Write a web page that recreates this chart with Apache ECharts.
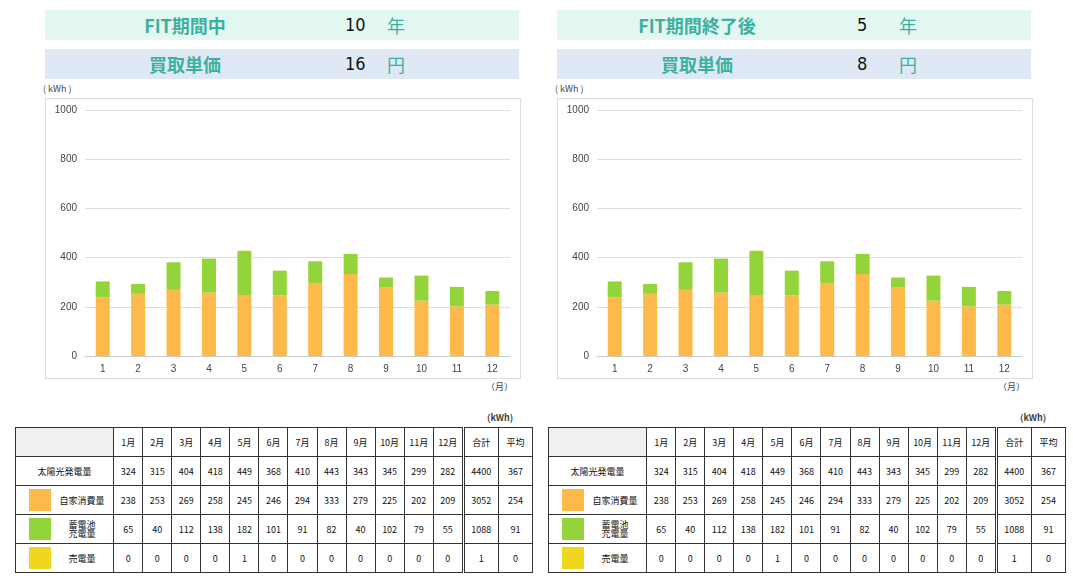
<!DOCTYPE html>
<html>
<head>
<meta charset="utf-8">
<script src="https://cdn.jsdelivr.net/npm/echarts@6/dist/echarts.min.js"></script>
<style>
body{margin:0;font-family:"Noto Sans CJK JP",sans-serif;background:#fff;width:1073px;height:588px;position:relative;overflow:hidden}
.band{position:absolute;height:30px;line-height:30px;font-size:18px;font-weight:bold;color:#3cb0a0}
.band span{position:absolute}
.band .n{color:#111;font-weight:normal;font-family:"Liberation Sans Narrow","DejaVu Sans Condensed",sans-serif}
.band .u{font-weight:normal}
.box{position:absolute;border:1px solid #ddd;width:474px;height:279px}
.ch{position:absolute;left:0;top:0;width:474px;height:279px}
.small{position:absolute;font-size:9px;color:#444}
table{position:absolute;border-collapse:collapse;font-size:9px;font-family:"Noto Sans CJK JP",sans-serif;color:#111}
td{border:1px solid #333;text-align:center;padding:0;height:28px}
td.sep{border-left:3px double #333}
.lab{display:flex;align-items:center;height:28px}
.sw{width:22px;height:22px;margin:0 0 0 13px;flex:none}
.lt{flex:1;text-align:center;line-height:9px}
</style>
</head>
<body>
<div id="root"></div>
<script>
var months = ['1','2','3','4','5','6','7','8','9','10','11','12'];
var colLabels = ['1月','2月','3月','4月','5月','6月','7月','8月','9月','10月','11月','12月','合計','平均'];
var solar = [324,315,404,418,449,368,410,443,343,345,299,282,4400,367];
var selfUse = [238,253,269,258,245,246,294,333,279,225,202,209,3052,254];
var battery = [65,40,112,138,182,101,91,82,40,102,79,55,1088,91];
var sold = [0,0,0,0,1,0,0,0,0,0,0,0,1,0];
var panels = [
  {x:45, tx:15, t1:'FIT期間中', v1:'10', u1:'年', t2:'買取単価', v2:'16', u2:'円'},
  {x:557, tx:548, t1:'FIT期間終了後', v1:'5', u1:'年', t2:'買取単価', v2:'8', u2:'円'}
];
var root = document.getElementById('root');
panels.forEach(function(p, i){
  var h = '';
  h += '<div class="band" style="left:'+p.x+'px;top:10px;width:474px;background:#e3f7f1"><span style="left:0;width:280px;text-align:center">'+p.t1+'</span><span class="n" style="left:300px">'+p.v1+'</span><span class="u" style="left:342px">'+p.u1+'</span></div>';
  h += '<div class="band" style="left:'+p.x+'px;top:49px;width:474px;background:#dfe9f5"><span style="left:0;width:280px;text-align:center">'+p.t2+'</span><span class="n" style="left:300px">'+p.v2+'</span><span class="u" style="left:342px">'+p.u2+'</span></div>';
  h += '<div class="small" style="left:'+(p.x-2)+'px;top:82px">( kWh )</div>';
  h += '<div class="box" style="left:'+p.x+'px;top:98px"><div class="ch" id="c'+i+'"></div></div>';
  h += '<div class="small" style="left:'+(p.x+441)+'px;top:380px">（月）</div>';
  h += '<div class="small" style="left:'+(p.tx+472)+'px;top:411px;font-weight:bold">(kWh)</div>';
  var t = '<table style="left:'+p.tx+'px;top:427px;width:518px"><tr><td style="width:97px;background:#f0f0f0"></td>';
  colLabels.forEach(function(c,k){ t += '<td class="'+(k==12?'sep':'')+'" style="width:'+(k>=12?33:28)+'px">'+c+'</td>'; });
  t += '</tr>';
  var rows = [['太陽光発電量',null,solar],['自家消費量','#fdb94a',selfUse],['蓄電池<br>充電量','#92d43a',battery],['売電量','#f0d61c',sold]];
  rows.forEach(function(r){
    t += '<tr><td><div class="lab">'+(r[1]?'<span class="sw" style="background:'+r[1]+'"></span>':'')+'<span class="lt">'+r[0]+'</span></div></td>';
    r[2].forEach(function(v,k){ t += '<td class="'+(k==12?'sep':'')+'">'+v+'</td>'; });
    t += '</tr>';
  });
  t += '</table>';
  h += t;
  root.insertAdjacentHTML('beforeend', h);
});
panels.forEach(function(p, i){
  var c = echarts.init(document.getElementById('c'+i));
  var base = {type:'bar', stack:'a', barWidth:14};
  c.setOption({
    animation:false,
    grid:{left:39, right:10, top:11, bottom:22},
    xAxis:{type:'category', data:months, axisTick:{show:false}, axisLine:{lineStyle:{color:'#ccc'}}, axisLabel:{color:'#444', fontSize:10}},
    yAxis:{type:'value', min:0, max:1000, interval:200, axisLabel:{color:'#444', fontSize:10, formatter:function(v){return String(v);}}, splitLine:{lineStyle:{color:'#ddd'}}},
    series:[
      Object.assign({data:selfUse.slice(0,12), itemStyle:{color:'#fdb94a'}}, base),
      Object.assign({data:battery.slice(0,12), itemStyle:{color:'#92d43a'}}, base),
      Object.assign({data:sold.slice(0,12), itemStyle:{color:'#f0d61c'}}, base)
    ]
  });
});
</script>
</body>
</html>
